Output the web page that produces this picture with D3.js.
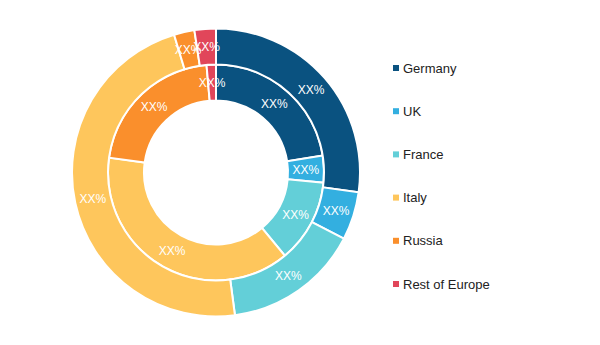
<!DOCTYPE html>
<html>
<head>
<meta charset="utf-8">
<script src="https://cdn.jsdelivr.net/npm/d3@7"></script>
<style>
  html, body { margin: 0; padding: 0; background: #fff; }
  svg { display: block; }
</style>
</head>
<body>
<div id="chart"></div>
<script>
const categories = ["Germany", "UK", "France", "Italy", "Russia", "Rest of Europe"];
const colors = ["#0A5280", "#33AFE0", "#63CFD8", "#FEC65C", "#FA8F2C", "#E1465A"];
const innerValues = [22.5, 4.0, 12.5, 38.2, 21.4, 1.4];
const outerValues = [27.2, 5.4, 15.3, 47.4, 2.3, 2.4];
const labelText = "XX%";

const W = 600, H = 345;
const cx = 216, cy = 172.5;

const svg = d3.select("#chart").append("svg")
  .attr("width", W).attr("height", H);

const g = svg.append("g").attr("transform", `translate(${cx},${cy})`);

const pie = d3.pie().sort(null).value(d => d.v);
const color = d3.scaleOrdinal().domain(categories).range(colors);

function ring(values, r0, r1) {
  const data = pie(categories.map((c, i) => ({ c, v: values[i] })));
  const arc = d3.arc().innerRadius(r0).outerRadius(r1);
  const rg = g.append("g");
  rg.selectAll("path").data(data).join("path")
    .attr("d", arc)
    .attr("fill", d => color(d.data.c))
    .attr("stroke", "#fff")
    .attr("stroke-width", 2);
  rg.selectAll("text").data(data).join("text")
    .attr("transform", d => `translate(${arc.centroid(d)})`)
    .attr("text-anchor", "middle")
    .attr("dy", "0.35em")
    .attr("fill", "#fff")
    .attr("font-family", "'Liberation Sans', Arial, sans-serif")
    .attr("font-size", 12)
    .text(labelText);
}

ring(innerValues, 72, 108);
ring(outerValues, 108, 144);

const legend = svg.append("g").attr("transform", "translate(393,68)");
const ly = d3.scalePoint().domain(categories).range([0, 216]);
const items = legend.selectAll("g").data(categories).join("g")
  .attr("transform", d => `translate(0,${ly(d)})`);
items.append("rect")
  .attr("x", 0).attr("y", -3).attr("width", 6).attr("height", 6)
  .attr("fill", d => color(d));
items.append("text")
  .attr("x", 10).attr("y", 0).attr("dy", "0.35em")
  .attr("font-family", "'Liberation Sans', Arial, sans-serif")
  .attr("font-size", 13)
  .attr("fill", "#222")
  .text(d => d);
</script>
</body>
</html>
